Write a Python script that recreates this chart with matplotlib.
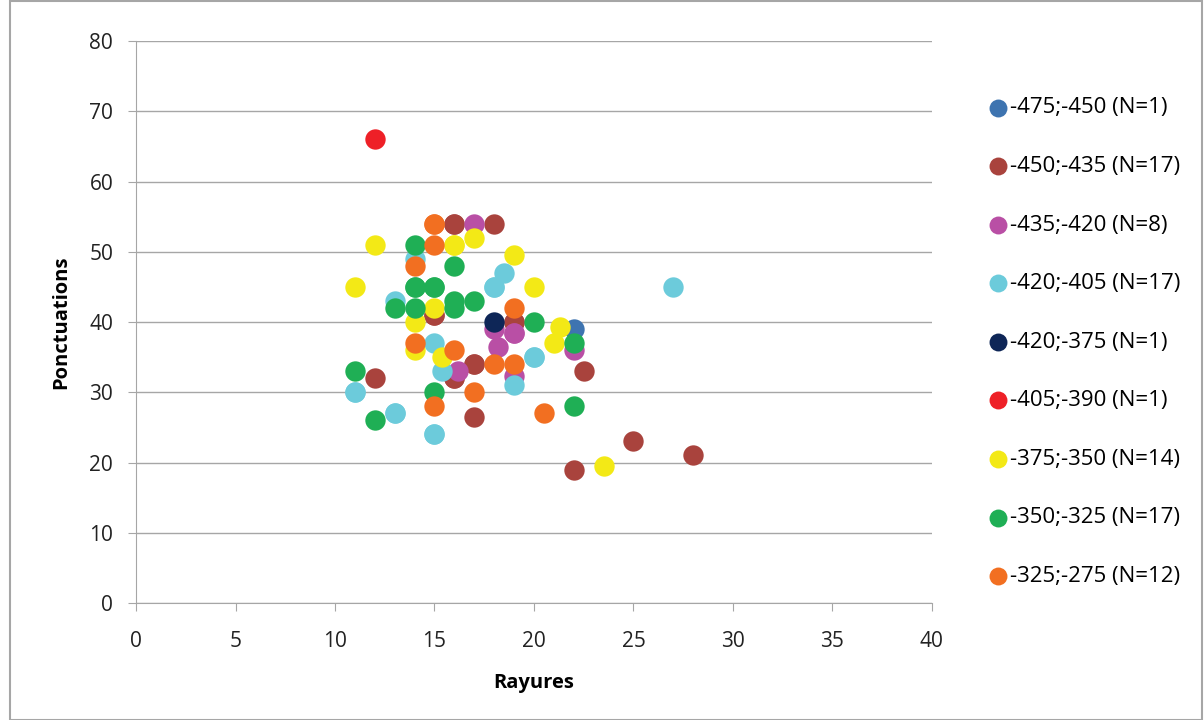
import matplotlib.pyplot as plt
from matplotlib.patches import Rectangle

plt.rcParams['font.family'] = ['Open Sans', 'DejaVu Sans']

labels = ['-475;-450 (N=1)', '-450;-435 (N=17)', '-435;-420 (N=8)',
          '-420;-405 (N=17)', '-420;-375 (N=1)', '-405;-390 (N=1)',
          '-375;-350 (N=14)', '-350;-325 (N=17)', '-325;-275 (N=12)']
colors = ['#3E74B0', '#A9433D', '#B94FA5', '#6CCBDB', '#0E2657',
          '#EE2027', '#F3E916', '#1FAF55', '#F26F21']

# rayures (x) / ponctuations (y) per series
x_475 = [22]
y_475 = [39]
x_450 = [16, 18, 12, 15, 17, 17, 16, 22, 25, 28, 22.5, 19, 16, 15, 17, 19, 16]
y_450 = [54, 54, 32, 41, 34, 26.5, 32, 19, 23, 21, 33, 40, 54, 41, 34, 40, 32]
x_435 = [17, 18, 19, 18.2, 22, 19, 16.2, 19]
y_435 = [54, 39, 38.5, 36.5, 36, 32.3, 33, 38.5]
x_420 = [27, 11, 13, 15, 15, 15.4, 13, 14, 18.5, 18, 20, 19, 11, 13, 15, 18, 20]
y_420 = [45, 30, 27, 24, 37, 33, 43, 49, 47, 45, 35, 31, 30, 27, 24, 45, 35]
x_375 = [18]
y_375 = [40]
x_405 = [12]
y_405 = [66]
x_350 = [11, 12, 16, 17, 15, 14, 14, 15.4, 19, 20, 21.3, 21, 23.5, 16]
y_350 = [45, 51, 51, 52, 42, 40, 36, 35, 49.5, 45, 39.3, 37, 19.5, 51]
x_325 = [14, 16, 14, 15, 13, 14, 16, 16, 17, 11, 12, 15, 20, 22, 22, 14, 15]
y_325 = [51, 48, 45, 45, 42, 42, 43, 42, 43, 33, 26, 30, 40, 37, 28, 45, 45]
x_275 = [15, 15, 14, 14, 16, 15, 17, 18, 19, 20.5, 19, 15]
y_275 = [54, 51, 48, 37, 36, 28, 30, 34, 34, 27, 42, 54]

xs = [x_475, x_450, x_435, x_420, x_375, x_405, x_350, x_325, x_275]
ys = [y_475, y_450, y_435, y_420, y_375, y_405, y_350, y_325, y_275]

fig = plt.figure(figsize=(12.04, 7.2), dpi=100)
fig.patches.append(Rectangle((0.008, 0.0), 0.99, 0.999, transform=fig.transFigure,
                             fill=False, edgecolor='#A6A6A6', linewidth=1.5))
ax = fig.add_axes([0.113, 0.1625, 0.661, 0.7805])

for x, y, c, lab in zip(xs, ys, colors, labels):
    ax.scatter(x, y, s=215, color=c, label=lab, linewidths=0, zorder=3)

ax.set_xlim(0, 40)
ax.set_ylim(0, 80)
ax.set_xticks(range(0, 41, 5))
ax.set_yticks(range(0, 81, 10))
ax.grid(axis='y', color='#A6A6A6', linewidth=1)
ax.set_axisbelow(True)
for s in ['top', 'right']:
    ax.spines[s].set_visible(False)
for s in ['left', 'bottom']:
    ax.spines[s].set_color('#A6A6A6')
ax.tick_params(colors='#A6A6A6', labelcolor='#222222', labelsize=15, length=6)
ax.tick_params(axis='y', pad=10.5)
ax.tick_params(axis='x', pad=14)
ax.set_xlabel('Rayures', fontsize=14.5, fontweight='bold', labelpad=15)
ax.set_ylabel('Ponctuations', fontsize=14.5, fontweight='bold', labelpad=13)

fig.legend(loc='upper left', bbox_to_anchor=(0.812, 0.877), frameon=False,
           fontsize=16, labelspacing=1.69, handlelength=1.0, handletextpad=0.05,
           markerscale=0.88, borderaxespad=0)

fig.savefig('out.png', dpi=100)
